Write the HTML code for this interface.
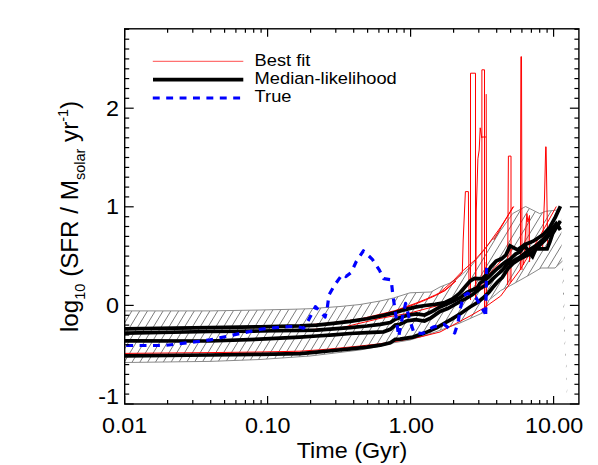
<!DOCTYPE html>
<html><head><meta charset="utf-8"><title>SFR vs Time</title>
<style>
html,body{margin:0;padding:0;background:#fff;}
body{width:598px;height:465px;overflow:hidden;}
svg{display:block;}
text{font-family:"Liberation Sans",sans-serif;fill:#000;}
</style></head>
<body>
<svg width="598" height="465" viewBox="0 0 598 465">
<rect width="598" height="465" fill="#fff"/>
<defs><clipPath id="bandclip"><polygon points="124.7,310.9 210.0,310.9 260.0,310.0 295.0,309.2 310.0,308.7 340.0,306.5 360.0,304.5 380.0,301.0 393.5,298.0 410.0,292.8 431.0,292.0 440.0,287.0 450.0,283.0 461.5,275.0 471.0,266.0 483.0,251.5 491.3,240.8 502.4,228.0 512.6,213.6 525.6,206.5 539.7,213.6 545.7,211.3 557.5,210.0 561.0,207.0 561.8,262.0 562.4,275.0 563.3,300.0 564.2,337.0 565.8,363.0 567.1,402.0 567.5,402.0 566.4,363.0 564.9,337.0 564.2,300.0 563.4,275.0 562.8,261.0 562.5,261.0 555.0,268.0 541.0,268.0 529.1,275.1 510.2,285.7 500.7,290.5 489.0,300.0 483.8,312.4 460.0,323.0 430.0,333.9 410.0,340.0 395.0,342.5 380.0,346.2 360.0,350.0 310.0,356.0 260.0,359.5 210.0,361.4 124.7,362.5"/></clipPath>
<clipPath id="plotclip"><rect x="124.7" y="28.8" width="454.2" height="375.2"/></clipPath></defs>
<g clip-path="url(#bandclip)" stroke="#222" stroke-width="0.6"><line x1="-80.5" y1="404.0" x2="73.4" y2="150.0"/><line x1="-72.7" y1="404.0" x2="81.2" y2="150.0"/><line x1="-64.9" y1="404.0" x2="89.0" y2="150.0"/><line x1="-57.1" y1="404.0" x2="96.8" y2="150.0"/><line x1="-49.3" y1="404.0" x2="104.6" y2="150.0"/><line x1="-41.5" y1="404.0" x2="112.4" y2="150.0"/><line x1="-33.7" y1="404.0" x2="120.2" y2="150.0"/><line x1="-25.9" y1="404.0" x2="128.0" y2="150.0"/><line x1="-18.1" y1="404.0" x2="135.8" y2="150.0"/><line x1="-10.3" y1="404.0" x2="143.6" y2="150.0"/><line x1="-2.5" y1="404.0" x2="151.4" y2="150.0"/><line x1="5.3" y1="404.0" x2="159.2" y2="150.0"/><line x1="13.1" y1="404.0" x2="167.0" y2="150.0"/><line x1="20.9" y1="404.0" x2="174.8" y2="150.0"/><line x1="28.7" y1="404.0" x2="182.6" y2="150.0"/><line x1="36.5" y1="404.0" x2="190.4" y2="150.0"/><line x1="44.3" y1="404.0" x2="198.2" y2="150.0"/><line x1="52.1" y1="404.0" x2="206.0" y2="150.0"/><line x1="59.9" y1="404.0" x2="213.8" y2="150.0"/><line x1="67.7" y1="404.0" x2="221.6" y2="150.0"/><line x1="75.5" y1="404.0" x2="229.4" y2="150.0"/><line x1="83.3" y1="404.0" x2="237.2" y2="150.0"/><line x1="91.1" y1="404.0" x2="245.0" y2="150.0"/><line x1="98.9" y1="404.0" x2="252.8" y2="150.0"/><line x1="106.7" y1="404.0" x2="260.6" y2="150.0"/><line x1="114.5" y1="404.0" x2="268.4" y2="150.0"/><line x1="122.3" y1="404.0" x2="276.2" y2="150.0"/><line x1="130.1" y1="404.0" x2="284.0" y2="150.0"/><line x1="137.9" y1="404.0" x2="291.8" y2="150.0"/><line x1="145.7" y1="404.0" x2="299.6" y2="150.0"/><line x1="153.5" y1="404.0" x2="307.4" y2="150.0"/><line x1="161.3" y1="404.0" x2="315.2" y2="150.0"/><line x1="169.1" y1="404.0" x2="323.0" y2="150.0"/><line x1="176.9" y1="404.0" x2="330.8" y2="150.0"/><line x1="184.7" y1="404.0" x2="338.6" y2="150.0"/><line x1="192.5" y1="404.0" x2="346.4" y2="150.0"/><line x1="200.3" y1="404.0" x2="354.2" y2="150.0"/><line x1="208.1" y1="404.0" x2="362.0" y2="150.0"/><line x1="215.9" y1="404.0" x2="369.8" y2="150.0"/><line x1="223.7" y1="404.0" x2="377.6" y2="150.0"/><line x1="231.5" y1="404.0" x2="385.4" y2="150.0"/><line x1="239.3" y1="404.0" x2="393.2" y2="150.0"/><line x1="247.1" y1="404.0" x2="401.0" y2="150.0"/><line x1="254.9" y1="404.0" x2="408.8" y2="150.0"/><line x1="262.7" y1="404.0" x2="416.6" y2="150.0"/><line x1="270.5" y1="404.0" x2="424.4" y2="150.0"/><line x1="278.3" y1="404.0" x2="432.2" y2="150.0"/><line x1="286.1" y1="404.0" x2="440.0" y2="150.0"/><line x1="293.9" y1="404.0" x2="447.8" y2="150.0"/><line x1="301.7" y1="404.0" x2="455.6" y2="150.0"/><line x1="309.5" y1="404.0" x2="463.4" y2="150.0"/><line x1="317.3" y1="404.0" x2="471.2" y2="150.0"/><line x1="325.1" y1="404.0" x2="479.0" y2="150.0"/><line x1="332.9" y1="404.0" x2="486.8" y2="150.0"/><line x1="340.7" y1="404.0" x2="494.6" y2="150.0"/><line x1="348.5" y1="404.0" x2="502.4" y2="150.0"/><line x1="356.3" y1="404.0" x2="510.2" y2="150.0"/><line x1="364.1" y1="404.0" x2="518.0" y2="150.0"/><line x1="371.9" y1="404.0" x2="525.8" y2="150.0"/><line x1="379.7" y1="404.0" x2="533.6" y2="150.0"/><line x1="387.5" y1="404.0" x2="541.4" y2="150.0"/><line x1="395.3" y1="404.0" x2="549.2" y2="150.0"/><line x1="403.1" y1="404.0" x2="557.0" y2="150.0"/><line x1="410.9" y1="404.0" x2="564.8" y2="150.0"/><line x1="418.7" y1="404.0" x2="572.6" y2="150.0"/><line x1="426.5" y1="404.0" x2="580.4" y2="150.0"/><line x1="434.3" y1="404.0" x2="588.2" y2="150.0"/><line x1="442.1" y1="404.0" x2="596.0" y2="150.0"/><line x1="449.9" y1="404.0" x2="603.8" y2="150.0"/><line x1="457.7" y1="404.0" x2="611.6" y2="150.0"/><line x1="465.5" y1="404.0" x2="619.4" y2="150.0"/><line x1="473.3" y1="404.0" x2="627.2" y2="150.0"/><line x1="481.1" y1="404.0" x2="635.0" y2="150.0"/><line x1="488.9" y1="404.0" x2="642.8" y2="150.0"/><line x1="496.7" y1="404.0" x2="650.6" y2="150.0"/><line x1="504.5" y1="404.0" x2="658.4" y2="150.0"/><line x1="512.3" y1="404.0" x2="666.2" y2="150.0"/><line x1="520.1" y1="404.0" x2="674.0" y2="150.0"/><line x1="527.9" y1="404.0" x2="681.8" y2="150.0"/><line x1="535.7" y1="404.0" x2="689.6" y2="150.0"/><line x1="543.5" y1="404.0" x2="697.4" y2="150.0"/><line x1="551.3" y1="404.0" x2="705.2" y2="150.0"/><line x1="559.1" y1="404.0" x2="713.0" y2="150.0"/><line x1="566.9" y1="404.0" x2="720.8" y2="150.0"/><line x1="574.7" y1="404.0" x2="728.6" y2="150.0"/><line x1="582.5" y1="404.0" x2="736.4" y2="150.0"/><line x1="590.3" y1="404.0" x2="744.2" y2="150.0"/><line x1="598.1" y1="404.0" x2="752.0" y2="150.0"/></g>
<polyline points="124.7,310.9 210.0,310.9 260.0,310.0 295.0,309.2 310.0,308.7 340.0,306.5 360.0,304.5 380.0,301.0 393.5,298.0 410.0,292.8 431.0,292.0 440.0,287.0 450.0,283.0 461.5,275.0 471.0,266.0 483.0,251.5 491.3,240.8 502.4,228.0 512.6,213.6 525.6,206.5 539.7,213.6 545.7,211.3 557.5,210.0 561.0,207.0" fill="none" stroke="#8a8a8a" stroke-width="1"/><polyline points="562.5,261.0 555.0,268.0 541.0,268.0 529.1,275.1 510.2,285.7 500.7,290.5 489.0,300.0 483.8,312.4 460.0,323.0 430.0,333.9 410.0,340.0 395.0,342.5 380.0,346.2 360.0,350.0 310.0,356.0 260.0,359.5 210.0,361.4 124.7,362.5" fill="none" stroke="#8a8a8a" stroke-width="1"/>
<g clip-path="url(#plotclip)">
<g fill="#ff0000" fill-opacity="0.3" stroke="none"><rect x="508.4" y="248" width="2.6" height="36"/><rect x="484.5" y="262" width="2.1" height="47"/><polygon points="524.8,243 526.9,213.5 527.9,222 529.5,215.5 529.3,243"/></g>
<g fill="none" stroke="#ff0000" stroke-width="1" stroke-linejoin="miter"><polyline points="124.7,353.4 210.0,352.6 260.0,352.0 300.0,351.2 320.0,349.8 340.0,348.0 360.0,346.0 380.0,343.8 398.0,341.0 420.0,337.0 440.0,332.0 450.0,326.7 470.0,316.0 483.8,308.0 500.7,296.0 520.0,270.0 540.0,236.0 556.3,206.5"/><polyline points="300.0,325.5 330.0,323.0 360.0,319.0 385.0,313.1 395.0,310.6 405.0,307.1 415.1,303.5 425.1,299.5 435.2,295.0 445.0,290.0 453.0,283.0 462.3,272.6"/><polyline points="330.0,323.5 360.0,319.8 385.0,313.8 395.0,311.3 405.0,307.8 415.1,304.2 425.1,300.2 435.2,295.7 445.0,290.7 456.0,281.0"/><polyline points="462.3,272.6 463.2,240.0 465.4,191.6 468.4,191.6 469.0,290.0"/><polyline points="470.5,300.0 470.5,73.2 475.5,73.2 475.5,300.0"/><polyline points="475.8,300.0 476.3,210.0 477.9,158.8 479.2,150.0 480.2,127.8 481.8,138.0"/><polyline points="481.9,290.0 481.9,69.8 484.5,69.8 484.5,309.0"/><polyline points="481.9,137.0 486.2,137.0"/><polyline points="486.2,94.1 486.6,309.0"/><polyline points="440.0,292.4 453.0,281.0 461.5,272.0 475.0,260.0 486.5,246.7 500.0,228.0 513.7,206.5"/><polyline points="493.8,240.0 513.1,206.7"/><polyline points="507.6,285.0 508.4,156.1 511.0,156.1 511.0,282.0"/><polyline points="520.4,270.0 520.9,56.7 521.5,56.7 522.0,270.0"/><polyline points="523.5,265.0 524.8,243.0 526.9,213.5 527.9,222.0 529.5,215.5 529.3,243.0 529.6,262.0"/><polyline points="542.6,250.0 543.2,230.0 544.5,198.0 545.7,146.8 546.1,146.8 546.9,198.0 547.4,230.0 547.8,250.0"/><polyline points="300.0,330.0 340.0,328.0 380.0,318.4 410.0,313.0 440.0,305.0 460.0,298.0 480.0,284.0 500.0,262.0 515.0,246.0"/></g>
<g fill="none" stroke="#000" stroke-width="3.7" stroke-linejoin="miter" stroke-miterlimit="3">
<polyline points="124.7,328.9 210.0,327.6 260.0,326.8 300.0,325.9 316.7,325.1 333.4,323.4 350.2,321.4 366.9,318.8 383.6,315.4 395.0,312.6 405.0,309.6 415.1,307.1 425.1,305.5 435.2,304.3 445.0,302.5 452.9,298.8 459.4,293.5 465.8,286.0 470.2,281.0 474.5,278.4 482.2,278.9 486.0,275.2 490.8,266.9 496.1,261.0 501.5,258.8 505.8,255.1 510.1,245.9 517.6,249.8 524.8,244.7 533.2,241.2 542.9,234.9 549.9,227.2 555.5,216.8 560.4,206.3"/><polyline points="124.7,333.1 210.0,331.5 260.0,331.0 300.0,330.4 316.7,330.1 333.4,328.8 350.2,327.6 366.9,326.0 380.3,324.3 390.3,322.6 395.3,319.3 400.0,317.6 407.7,315.2 416.8,313.9 424.5,315.0 431.0,312.0 440.0,307.0 452.9,301.3 460.6,297.4 467.1,292.3 477.4,287.7 480.0,283.0 484.5,280.5 488.8,276.8 492.7,272.9 497.5,268.5 502.4,264.4 506.0,261.5 510.1,259.4 515.5,254.0 520.0,251.8 524.8,245.4 528.3,251.7 532.5,256.6 535.9,248.9 547.1,248.9 549.9,241.9 552.7,233.5 556.9,226.5 560.4,221.0"/><polyline points="124.7,340.9 210.0,341.0 260.0,339.2 300.0,337.2 316.7,336.0 333.4,334.8 350.2,333.5 366.9,332.6 383.6,331.8 390.3,329.3 395.3,325.1 400.0,324.2 406.5,321.0 415.5,319.7 424.5,321.0 431.0,317.8 440.0,311.5 447.7,308.5 458.1,302.6 465.8,298.7 472.3,294.8 480.0,288.5 484.5,286.0 488.8,282.8 492.7,278.9 497.5,274.5 502.4,270.2 506.9,264.5 512.3,261.5 520.0,257.2 529.0,250.0 537.3,244.7 544.3,238.4 551.3,230.0 556.2,223.7 560.4,230.0"/><polyline points="124.7,355.9 210.0,355.0 260.0,354.3 300.0,353.6 316.7,352.2 333.4,350.5 350.2,348.9 366.9,347.2 380.3,345.2 390.3,342.7 395.3,339.3 400.0,339.1 412.9,337.1 425.8,332.6 437.0,327.5 443.0,324.0 451.7,319.1 460.7,313.5 470.0,307.0 477.4,302.6 482.6,298.3 488.8,292.5 492.7,287.5 497.5,282.0 502.4,277.3 508.0,268.5 513.3,263.1 520.0,258.8 530.0,254.0 538.0,247.0 546.0,239.0 552.0,231.5 556.5,225.0 559.5,228.0"/>
</g>
<polyline points="124.7,345.5 164.5,345.5 190.0,342.5 210.0,339.9 240.0,333.5 261.6,329.1 280.0,327.2 296.0,326.3 303.6,328.2 307.9,321.3 315.4,306.7 320.4,312.0 325.1,317.0 327.3,307.7 329.0,294.8 334.8,284.7 342.3,274.4 346.0,276.5 351.3,272.3 356.3,261.5 363.4,250.8 372.4,259.4 379.4,270.1 383.7,278.7 391.2,279.8 392.7,293.8 395.5,313.1 398.7,336.5 401.9,319.6 405.6,303.4 409.0,317.4 413.8,332.5 422.4,333.5 433.1,327.1 444.0,324.2 454.7,333.0 458.0,323.1 460.1,309.1 463.5,296.0 467.5,293.2 476.0,297.5 481.0,307.0 485.3,313.5" fill="none" stroke="#0000ff" stroke-width="3.2" stroke-dasharray="6.9 6.5" stroke-dashoffset="-1.5" stroke-linejoin="round"/>
<polyline points="485.7,314.0 486.2,290.0 486.6,267.9" fill="none" stroke="#0000ff" stroke-width="3.2" stroke-dasharray="6.6 6.7"/>
</g>
<!-- legend -->
<line x1="152.8" y1="61.3" x2="243.3" y2="61.3" stroke="#ff0000" stroke-width="0.7"/>
<line x1="153" y1="79.65" x2="243.3" y2="79.65" stroke="#000" stroke-width="3.8"/>
<line x1="152.8" y1="98" x2="243.3" y2="98" stroke="#0000ff" stroke-width="3.2" stroke-dasharray="6.9 6.5"/>
<g font-size="16.8px">
<text transform="translate(254.6,65.6) scale(1.088,1)">Best fit</text>
<text transform="translate(254.6,83.6) scale(1.088,1)">Median-likelihood</text>
<text transform="translate(254.6,102.3) scale(1.088,1)">True</text>
</g>
<!-- frame -->
<rect x="124.7" y="28.8" width="454.2" height="375.2" fill="none" stroke="#000" stroke-width="1.4"/>
<g stroke="#000" stroke-width="1.2"><line x1="124.6" y1="404.0" x2="124.6" y2="396.0"/><line x1="124.6" y1="28.8" x2="124.6" y2="36.8"/><line x1="167.6" y1="404.0" x2="167.6" y2="400.0"/><line x1="167.6" y1="28.8" x2="167.6" y2="32.8"/><line x1="192.8" y1="404.0" x2="192.8" y2="400.0"/><line x1="192.8" y1="28.8" x2="192.8" y2="32.8"/><line x1="210.7" y1="404.0" x2="210.7" y2="400.0"/><line x1="210.7" y1="28.8" x2="210.7" y2="32.8"/><line x1="224.6" y1="404.0" x2="224.6" y2="400.0"/><line x1="224.6" y1="28.8" x2="224.6" y2="32.8"/><line x1="235.9" y1="404.0" x2="235.9" y2="400.0"/><line x1="235.9" y1="28.8" x2="235.9" y2="32.8"/><line x1="245.4" y1="404.0" x2="245.4" y2="400.0"/><line x1="245.4" y1="28.8" x2="245.4" y2="32.8"/><line x1="253.7" y1="404.0" x2="253.7" y2="400.0"/><line x1="253.7" y1="28.8" x2="253.7" y2="32.8"/><line x1="261.1" y1="404.0" x2="261.1" y2="400.0"/><line x1="261.1" y1="28.8" x2="261.1" y2="32.8"/><line x1="267.6" y1="404.0" x2="267.6" y2="396.0"/><line x1="267.6" y1="28.8" x2="267.6" y2="36.8"/><line x1="310.6" y1="404.0" x2="310.6" y2="400.0"/><line x1="310.6" y1="28.8" x2="310.6" y2="32.8"/><line x1="335.8" y1="404.0" x2="335.8" y2="400.0"/><line x1="335.8" y1="28.8" x2="335.8" y2="32.8"/><line x1="353.7" y1="404.0" x2="353.7" y2="400.0"/><line x1="353.7" y1="28.8" x2="353.7" y2="32.8"/><line x1="367.6" y1="404.0" x2="367.6" y2="400.0"/><line x1="367.6" y1="28.8" x2="367.6" y2="32.8"/><line x1="378.9" y1="404.0" x2="378.9" y2="400.0"/><line x1="378.9" y1="28.8" x2="378.9" y2="32.8"/><line x1="388.4" y1="404.0" x2="388.4" y2="400.0"/><line x1="388.4" y1="28.8" x2="388.4" y2="32.8"/><line x1="396.7" y1="404.0" x2="396.7" y2="400.0"/><line x1="396.7" y1="28.8" x2="396.7" y2="32.8"/><line x1="404.1" y1="404.0" x2="404.1" y2="400.0"/><line x1="404.1" y1="28.8" x2="404.1" y2="32.8"/><line x1="410.6" y1="404.0" x2="410.6" y2="396.0"/><line x1="410.6" y1="28.8" x2="410.6" y2="36.8"/><line x1="453.6" y1="404.0" x2="453.6" y2="400.0"/><line x1="453.6" y1="28.8" x2="453.6" y2="32.8"/><line x1="478.8" y1="404.0" x2="478.8" y2="400.0"/><line x1="478.8" y1="28.8" x2="478.8" y2="32.8"/><line x1="496.7" y1="404.0" x2="496.7" y2="400.0"/><line x1="496.7" y1="28.8" x2="496.7" y2="32.8"/><line x1="510.6" y1="404.0" x2="510.6" y2="400.0"/><line x1="510.6" y1="28.8" x2="510.6" y2="32.8"/><line x1="521.9" y1="404.0" x2="521.9" y2="400.0"/><line x1="521.9" y1="28.8" x2="521.9" y2="32.8"/><line x1="531.4" y1="404.0" x2="531.4" y2="400.0"/><line x1="531.4" y1="28.8" x2="531.4" y2="32.8"/><line x1="539.7" y1="404.0" x2="539.7" y2="400.0"/><line x1="539.7" y1="28.8" x2="539.7" y2="32.8"/><line x1="547.1" y1="404.0" x2="547.1" y2="400.0"/><line x1="547.1" y1="28.8" x2="547.1" y2="32.8"/><line x1="553.6" y1="404.0" x2="553.6" y2="396.0"/><line x1="553.6" y1="28.8" x2="553.6" y2="36.8"/><line x1="124.7" y1="404.0" x2="133.7" y2="404.0"/><line x1="578.9" y1="404.0" x2="569.9" y2="404.0"/><line x1="124.7" y1="394.1" x2="129.2" y2="394.1"/><line x1="578.9" y1="394.1" x2="574.4" y2="394.1"/><line x1="124.7" y1="384.3" x2="129.2" y2="384.3"/><line x1="578.9" y1="384.3" x2="574.4" y2="384.3"/><line x1="124.7" y1="374.4" x2="129.2" y2="374.4"/><line x1="578.9" y1="374.4" x2="574.4" y2="374.4"/><line x1="124.7" y1="364.6" x2="129.2" y2="364.6"/><line x1="578.9" y1="364.6" x2="574.4" y2="364.6"/><line x1="124.7" y1="354.7" x2="129.2" y2="354.7"/><line x1="578.9" y1="354.7" x2="574.4" y2="354.7"/><line x1="124.7" y1="344.8" x2="129.2" y2="344.8"/><line x1="578.9" y1="344.8" x2="574.4" y2="344.8"/><line x1="124.7" y1="335.0" x2="129.2" y2="335.0"/><line x1="578.9" y1="335.0" x2="574.4" y2="335.0"/><line x1="124.7" y1="325.1" x2="129.2" y2="325.1"/><line x1="578.9" y1="325.1" x2="574.4" y2="325.1"/><line x1="124.7" y1="315.3" x2="129.2" y2="315.3"/><line x1="578.9" y1="315.3" x2="574.4" y2="315.3"/><line x1="124.7" y1="305.4" x2="133.7" y2="305.4"/><line x1="578.9" y1="305.4" x2="569.9" y2="305.4"/><line x1="124.7" y1="295.5" x2="129.2" y2="295.5"/><line x1="578.9" y1="295.5" x2="574.4" y2="295.5"/><line x1="124.7" y1="285.7" x2="129.2" y2="285.7"/><line x1="578.9" y1="285.7" x2="574.4" y2="285.7"/><line x1="124.7" y1="275.8" x2="129.2" y2="275.8"/><line x1="578.9" y1="275.8" x2="574.4" y2="275.8"/><line x1="124.7" y1="266.0" x2="129.2" y2="266.0"/><line x1="578.9" y1="266.0" x2="574.4" y2="266.0"/><line x1="124.7" y1="256.1" x2="129.2" y2="256.1"/><line x1="578.9" y1="256.1" x2="574.4" y2="256.1"/><line x1="124.7" y1="246.2" x2="129.2" y2="246.2"/><line x1="578.9" y1="246.2" x2="574.4" y2="246.2"/><line x1="124.7" y1="236.4" x2="129.2" y2="236.4"/><line x1="578.9" y1="236.4" x2="574.4" y2="236.4"/><line x1="124.7" y1="226.5" x2="129.2" y2="226.5"/><line x1="578.9" y1="226.5" x2="574.4" y2="226.5"/><line x1="124.7" y1="216.7" x2="129.2" y2="216.7"/><line x1="578.9" y1="216.7" x2="574.4" y2="216.7"/><line x1="124.7" y1="206.8" x2="133.7" y2="206.8"/><line x1="578.9" y1="206.8" x2="569.9" y2="206.8"/><line x1="124.7" y1="196.9" x2="129.2" y2="196.9"/><line x1="578.9" y1="196.9" x2="574.4" y2="196.9"/><line x1="124.7" y1="187.1" x2="129.2" y2="187.1"/><line x1="578.9" y1="187.1" x2="574.4" y2="187.1"/><line x1="124.7" y1="177.2" x2="129.2" y2="177.2"/><line x1="578.9" y1="177.2" x2="574.4" y2="177.2"/><line x1="124.7" y1="167.4" x2="129.2" y2="167.4"/><line x1="578.9" y1="167.4" x2="574.4" y2="167.4"/><line x1="124.7" y1="157.5" x2="129.2" y2="157.5"/><line x1="578.9" y1="157.5" x2="574.4" y2="157.5"/><line x1="124.7" y1="147.6" x2="129.2" y2="147.6"/><line x1="578.9" y1="147.6" x2="574.4" y2="147.6"/><line x1="124.7" y1="137.8" x2="129.2" y2="137.8"/><line x1="578.9" y1="137.8" x2="574.4" y2="137.8"/><line x1="124.7" y1="127.9" x2="129.2" y2="127.9"/><line x1="578.9" y1="127.9" x2="574.4" y2="127.9"/><line x1="124.7" y1="118.1" x2="129.2" y2="118.1"/><line x1="578.9" y1="118.1" x2="574.4" y2="118.1"/><line x1="124.7" y1="108.2" x2="133.7" y2="108.2"/><line x1="578.9" y1="108.2" x2="569.9" y2="108.2"/><line x1="124.7" y1="98.3" x2="129.2" y2="98.3"/><line x1="578.9" y1="98.3" x2="574.4" y2="98.3"/><line x1="124.7" y1="88.5" x2="129.2" y2="88.5"/><line x1="578.9" y1="88.5" x2="574.4" y2="88.5"/><line x1="124.7" y1="78.6" x2="129.2" y2="78.6"/><line x1="578.9" y1="78.6" x2="574.4" y2="78.6"/><line x1="124.7" y1="68.8" x2="129.2" y2="68.8"/><line x1="578.9" y1="68.8" x2="574.4" y2="68.8"/><line x1="124.7" y1="58.9" x2="129.2" y2="58.9"/><line x1="578.9" y1="58.9" x2="574.4" y2="58.9"/><line x1="124.7" y1="49.0" x2="129.2" y2="49.0"/><line x1="578.9" y1="49.0" x2="574.4" y2="49.0"/><line x1="124.7" y1="39.2" x2="129.2" y2="39.2"/><line x1="578.9" y1="39.2" x2="574.4" y2="39.2"/><line x1="124.7" y1="29.3" x2="129.2" y2="29.3"/><line x1="578.9" y1="29.3" x2="574.4" y2="29.3"/></g>
<!-- tick labels -->
<g font-size="21.6px" text-anchor="middle">
<text transform="translate(124.6,433.2) scale(1.08,1)">0.01</text>
<text transform="translate(267.8,433.2) scale(1.08,1)">0.10</text>
<text transform="translate(411.3,433.2) scale(1.08,1)">1.00</text>
<text transform="translate(554.1,433.2) scale(1.08,1)">10.00</text>
<text transform="translate(352,458.3) scale(1.08,1)">Time (Gyr)</text>
</g>
<g font-size="21.6px" text-anchor="end">
<text transform="translate(119,115.5) scale(1.08,1)">2</text>
<text transform="translate(119,214) scale(1.08,1)">1</text>
<text transform="translate(119,312.6) scale(1.08,1)">0</text>
<text transform="translate(119,404.2) scale(1.08,1)">-1</text>
</g>
<text transform="translate(77.8,332) rotate(-90)" font-size="24.2px" word-spacing="0">log<tspan font-size="14.5px" dy="7.2">10</tspan><tspan dy="-7.2"> (SFR / M</tspan><tspan font-size="14.5px" dy="7.2">solar</tspan><tspan dy="-7.2"> yr</tspan><tspan font-size="14.5px" dy="-10.2">-1</tspan><tspan dy="10.2">)</tspan></text>
</svg>
</body></html>
